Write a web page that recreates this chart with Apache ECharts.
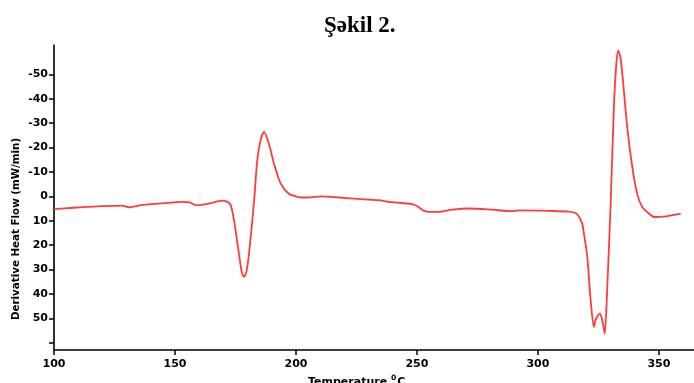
<!DOCTYPE html>
<html>
<head>
<meta charset="utf-8">
<script src="https://cdn.jsdelivr.net/npm/echarts@6/dist/echarts.min.js"></script>
<style>
  html, body { margin: 0; padding: 0; background: #fff; }
  #chart { width: 694px; height: 383px; }
</style>
</head>
<body>
<div id="chart"></div>
<script>
// DTA derivative heat-flow trace
const temperature = [100, 108, 116, 124, 128, 131, 136, 143.4, 153, 156, 159, 164, 169.4, 171.5, 173,
  174.4, 176.4, 177.6, 178.5, 179.5, 180.6, 182.6, 184, 185.4, 186.8, 188.8, 190.9, 193.7, 197.1, 201, 205,
  210.7, 217.8, 227.3, 234.3, 238.4, 248, 250, 253, 255, 259, 264.5, 271.5, 281, 289.3, 292,
  304.5, 312.8, 316, 318.2, 319, 320.4, 321.8, 323.1, 323.8, 325.5, 326.6, 327.6, 328.6, 330,
  331.4, 332.3, 333.2, 334.2, 335.5, 336.9, 339, 341, 343.1, 345.9, 347.9, 353, 359];
const heatFlow = [5.3, 4.7, 4.2, 3.9, 3.8, 4.5, 3.6, 3.0, 2.3, 2.5, 3.7, 3.0, 1.8, 2.2, 3.5,
  9.8, 23.4, 31, 33, 31, 23.4, 3, -14.7, -23, -26.4, -21.6, -13.4, -5.2, -1.0, 0.3, 0.5,
  0, 0.5, 1.2, 1.6, 2.3, 3.2, 4.0, 6.0, 6.4, 6.4, 5.5, 5.0, 5.5, 6.1, 5.8,
  6.0, 6.3, 7.2, 11, 15.3, 24.9, 42.6, 53.6, 50.8, 48.1, 50.8, 56.3, 38.5, 4.4,
  -36.6, -53, -59.8, -56.4, -43.4, -28.4, -12, -1.1, 4.4, 7.1, 8.5, 8.2, 7.1];

const xTicks = [100, 150, 200, 250, 300, 350];
const yTicks = [-50, -40, -30, -20, -10, 0, 10, 20, 30, 40, 50, 60];
const yLabels = [-50, -40, -30, -20, -10, 0, 10, 20, 30, 40, 50];

const chart = echarts.init(document.getElementById('chart'), null, { renderer: 'canvas' });
const axisFont = 'DejaVu Sans, Verdana, sans-serif';

chart.setOption({
  animation: false,
  backgroundColor: '#ffffff',
  title: {
    text: 'Şəkil 2.',
    left: 319,
    top: 10,
    textStyle: { fontFamily: 'Liberation Serif, Times New Roman, serif', fontWeight: 'bold', fontSize: 23, color: '#000' }
  },
  grid: { left: 54, right: 0, top: 45, bottom: 33, containLabel: false },
  xAxis: {
    type: 'value',
    min: 100,
    max: 364.5,
    axisLine: { show: true, onZero: false, lineStyle: { color: '#000', width: 1.6 } },
    axisTick: { show: true, length: 5, customValues: xTicks, lineStyle: { color: '#000', width: 1.5 } },
    axisLabel: { customValues: xTicks, margin: 9, color: '#000', fontWeight: 'bold', fontSize: 11, fontFamily: axisFont },
    splitLine: { show: false }
  },
  yAxis: {
    type: 'value',
    inverse: true,
    min: -62,
    max: 63,
    axisLine: { show: true, onZero: false, lineStyle: { color: '#000', width: 1.6 } },
    axisTick: { show: true, length: 5, customValues: yTicks, lineStyle: { color: '#000', width: 1.5 } },
    axisLabel: { customValues: yLabels, margin: 6, color: '#000', fontWeight: 'bold', fontSize: 11, fontFamily: axisFont },
    splitLine: { show: false }
  },
  graphic: [
    {
      type: 'text',
      x: 16,
      y: 229,
      rotation: Math.PI / 2,
      style: {
        text: 'Derivative Heat Flow (mW/min)',
        fill: '#000',
        font: 'bold 10.3px DejaVu Sans, Verdana, sans-serif',
        align: 'center',
        verticalAlign: 'middle'
      }
    },
    {
      type: 'text',
      x: 308,
      y: 381,
      style: {
        text: '{t|Temperature }{s|0}{t|C}',
        verticalAlign: 'middle',
        rich: {
          t: { fontFamily: axisFont, fontWeight: 'bold', fontSize: 11, fill: '#000', verticalAlign: 'bottom' },
          s: { fontFamily: axisFont, fontWeight: 'bold', fontSize: 7.5, fill: '#000', verticalAlign: 'top', padding: [0, 1, 5, 0] }
        }
      }
    }
  ],
  series: [{
    type: 'line',
    data: temperature.map((t, i) => [t, heatFlow[i]]),
    showSymbol: false,
    smooth: 0.25,
    lineStyle: { color: '#ff3b3b', width: 1.8 }
  }]
});
</script>
</body>
</html>
